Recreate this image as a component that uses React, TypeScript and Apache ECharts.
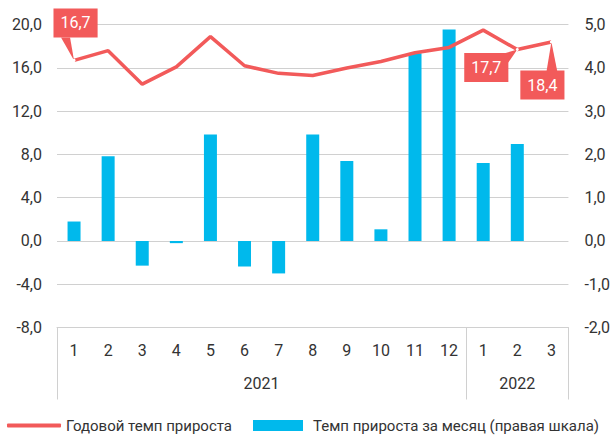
import React, { useEffect, useRef } from "react";
import * as echarts from "echarts";

const months = ["1", "2", "3", "4", "5", "6", "7", "8", "9", "10", "11", "12", "1", "2", "3"];
const years = ["2021", "2022"];
const yearCenters = [6, 13.5];
const yearBounds = [0, 12, 15];
const annualGrowth = [16.7, 17.6, 14.5, 16.1, 18.9, 16.2, 15.5, 15.3, 16.0, 16.6, 17.4, 17.9, 19.5, 17.7, 18.4];
const monthlyGrowth = [0.45, 1.96, -0.57, -0.05, 2.46, -0.59, -0.75, 2.46, 1.85, 0.27, 4.34, 4.89, 1.8, 2.24, null];
const calloutIdx = [0, 13, 14];

const LINE_NAME = "Годовой темп прироста";
const BAR_NAME = "Темп прироста за месяц (правая шкала)";
const RED = "#F25A5A";
const BLUE = "#00B9EC";
const TEXT = "#333333";
const GRID = "#D0D0D0";
const FONT = "Roboto";

const calloutOffsets: Record<number, [number, number]> = {
  0: [1.5, -37.5],
  13: [-31, 18],
  14: [-9, 43],
};
const wedgeBases: Record<number, [number, number][]> = {
  0: [[-13, -23], [-4, -23]],
  13: [[-17, 5], [-9, 13]],
  14: [[-5, 30], [6, 30]],
};

const fmt = (v: number) => v.toFixed(1).replace(".", ",");

export default function App() {
  const ref = useRef<HTMLDivElement>(null);
  useEffect(() => {
    if (!ref.current) return;
    const chart = echarts.init(ref.current, null, { renderer: "svg" });
    const lineData = annualGrowth.map((v, i) => {
      if (calloutIdx.includes(i)) {
        return {
          value: v,
          symbolSize: 3,
          label: {
            show: true,
            position: "inside",
            offset: calloutOffsets[i],
            formatter: (p: any) => fmt(p.value),
            backgroundColor: RED,
            color: "#fff",
            fontSize: 16,
            fontFamily: FONT,
            padding: [5, 7, 5, 7],
            lineHeight: 19,
          },
        };
      }
      return { value: v };
    });
    const legendText = { fontSize: 15, color: TEXT, fontFamily: FONT };
    chart.setOption({
      animation: false,
      textStyle: { fontFamily: FONT },
      grid: { left: 57, right: 44, top: 24.7, bottom: 109.5, containLabel: false },
      legend: [
        {
          left: 7,
          top: 418,
          padding: 0,
          itemWidth: 54,
          itemHeight: 4,
          data: [{ name: LINE_NAME, icon: "roundRect", itemStyle: { color: RED } }],
          textStyle: legendText,
        },
        {
          left: 253,
          top: 418,
          padding: 0,
          icon: "rect",
          itemWidth: 50,
          itemHeight: 11,
          data: [{ name: BAR_NAME, itemStyle: { color: BLUE } }],
          textStyle: { ...legendText, padding: [0, 0, 0, 5] },
        },
      ],
      xAxis: [
        {
          type: "category",
          data: months,
          boundaryGap: true,
          axisLine: { show: true, onZero: false, lineStyle: { color: GRID, width: 1 } },
          axisTick: { show: false },
          axisLabel: { margin: 15, fontSize: 16, color: TEXT, fontFamily: FONT },
        },
        {
          type: "value",
          min: 0,
          max: 15,
          position: "bottom",
          axisLine: { show: false, onZero: false },
          splitLine: { show: false },
          axisTick: { show: false },
          axisLabel: {
            show: true,
            customValues: yearCenters,
            margin: 48,
            fontSize: 16,
            color: TEXT,
            fontFamily: FONT,
            formatter: (v: number) => years[yearCenters.indexOf(v)] ?? "",
          },
        },
      ],
      yAxis: [
        {
          type: "value",
          min: -8,
          max: 20,
          interval: 4,
          axisLine: { show: false },
          axisTick: { show: false },
          splitLine: { show: true, lineStyle: { color: GRID, width: 1 } },
          axisLabel: { margin: 15, fontSize: 16, color: TEXT, fontFamily: FONT, formatter: fmt },
        },
        {
          type: "value",
          min: -2,
          max: 5,
          interval: 1,
          position: "right",
          axisLine: { show: false },
          axisTick: { show: false },
          splitLine: { show: false },
          axisLabel: { margin: 16, fontSize: 16, color: TEXT, fontFamily: FONT, formatter: fmt },
        },
      ],
      series: [
        {
          name: BAR_NAME,
          type: "bar",
          xAxisIndex: 0,
          yAxisIndex: 1,
          data: monthlyGrowth,
          barWidth: 13,
          itemStyle: { color: BLUE },
          z: 1,
        },
        {
          name: LINE_NAME,
          type: "line",
          xAxisIndex: 0,
          yAxisIndex: 0,
          data: lineData,
          symbol: "circle",
          symbolSize: 0,
          showSymbol: true,
          itemStyle: { color: "#ffffff", borderColor: "#ffffff", borderWidth: 0 },
          lineStyle: { color: RED, width: 3.5 },
          z: 3,
        },
      ],
    });
    const graphics: any[] = calloutIdx.map((i) => {
      const p = chart.convertToPixel({ xAxisIndex: 0, yAxisIndex: 0 }, [i, annualGrowth[i]]) as number[];
      const b = wedgeBases[i];
      return {
        type: "polygon",
        z: 2,
        shape: {
          points: [
            [p[0], p[1]],
            [p[0] + b[0][0], p[1] + b[0][1]],
            [p[0] + b[1][0], p[1] + b[1][1]],
          ],
        },
        style: { fill: RED },
      };
    });
    const c0 = chart.convertToPixel({ xAxisIndex: 0 }, 0) as number;
    const c1 = chart.convertToPixel({ xAxisIndex: 0 }, 1) as number;
    const band = c1 - c0;
    const yBottom = chart.convertToPixel({ yAxisIndex: 0 }, -8) as number;
    yearBounds.forEach((k) => {
      const x = Math.round(c0 + (k - 0.5) * band) + 0.5;
      graphics.push({
        type: "line",
        z: 1,
        shape: { x1: x, y1: yBottom, x2: x, y2: yBottom + 72 },
        style: { stroke: GRID, lineWidth: 1 },
      });
    });
    chart.setOption({ graphic: graphics });
    return () => chart.dispose();
  }, []);
  return (
    <div
      ref={ref}
      style={{ position: "fixed", left: 0, top: 0, width: 613, height: 437, background: "#fff" }}
    />
  );
}
